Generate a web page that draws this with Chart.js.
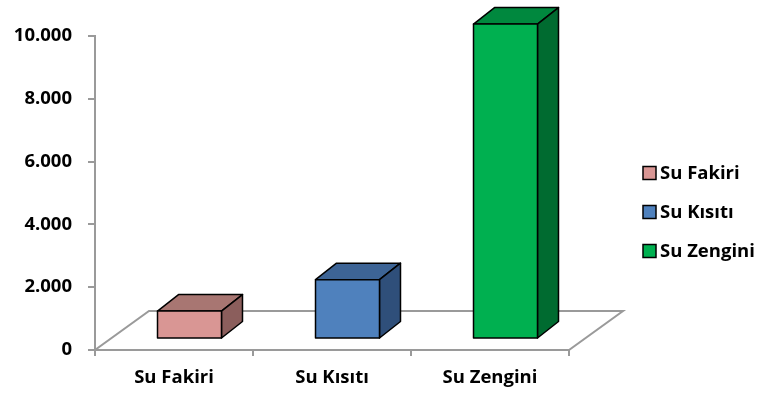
<!DOCTYPE html>
<html>
<head>
<meta charset="utf-8">
<script src="https://cdn.jsdelivr.net/npm/chart.js@4/dist/chart.umd.min.js"></script>
<style>
html,body{margin:0;padding:0;background:#fff;}
#wrap{width:761px;height:396px;position:relative;}
</style>
</head>
<body>
<div id="wrap"><canvas id="c" width="761" height="396"></canvas></div>
<script>
// ---- data ----
const categories = ["Su Fakiri", "Su Kısıtı", "Su Zengini"];
const values = [890, 1890, 10030];
const yTickValues = [0, 2000, 4000, 6000, 8000, 10000];
const yTickLabels = ["0", "2.000", "4.000", "6.000", "8.000", "10.000"];

// ---- styles ----
const frontColors = ["#D99694", "#4F81BD", "#00B050"];
const topColors = ["#A87672", "#3D6495", "#00883E"];
const sideColors = ["#8B5E5C", "#2F4F7A", "#006B30"];
const FONT = "'Open Sans', 'Liberation Sans', sans-serif";
const AXIS_GREY = "#9a9a9a";

const OFF_X = 15.5, OFF_Y = -11;      // bar placement depth
const DEP_X = 21, DEP_Y = -16.5;      // bar depth
const FLOOR_X = 54, FLOOR_Y = -39;    // floor depth

const bar3d = {
  id: 'bar3d',
  beforeDatasetsDraw(chart) {
    const ctx = chart.ctx, a = chart.chartArea;
    ctx.save();
    ctx.beginPath();
    ctx.moveTo(a.left, a.bottom);
    ctx.lineTo(a.right, a.bottom);
    ctx.lineTo(a.right + FLOOR_X, a.bottom + FLOOR_Y);
    ctx.lineTo(a.left + FLOOR_X, a.bottom + FLOOR_Y);
    ctx.closePath();
    ctx.fillStyle = '#ffffff';
    ctx.fill();
    ctx.strokeStyle = AXIS_GREY;
    ctx.lineWidth = 2;
    ctx.stroke();
    ctx.restore();
  },
  afterDatasetsDraw(chart) {
    const ctx = chart.ctx;
    const meta = chart.getDatasetMeta(0);
    ctx.save();
    ctx.lineWidth = 1.5;
    ctx.strokeStyle = '#000';
    ctx.lineJoin = 'round';
    meta.data.forEach((bar, i) => {
      const p = bar.getProps(['x', 'y', 'base', 'width'], true);
      const x0 = p.x - p.width / 2 + OFF_X, x1 = x0 + p.width;
      const yt = p.y + OFF_Y, yb = p.base + OFF_Y;
      // top face
      ctx.beginPath();
      ctx.moveTo(x0, yt); ctx.lineTo(x1, yt);
      ctx.lineTo(x1 + DEP_X, yt + DEP_Y); ctx.lineTo(x0 + DEP_X, yt + DEP_Y);
      ctx.closePath();
      ctx.fillStyle = topColors[i]; ctx.fill(); ctx.stroke();
      // side face
      ctx.beginPath();
      ctx.moveTo(x1, yt); ctx.lineTo(x1 + DEP_X, yt + DEP_Y);
      ctx.lineTo(x1 + DEP_X, yb + DEP_Y); ctx.lineTo(x1, yb);
      ctx.closePath();
      ctx.fillStyle = sideColors[i]; ctx.fill(); ctx.stroke();
      // front face
      ctx.beginPath();
      ctx.rect(x0, yt, p.width, yb - yt);
      ctx.fillStyle = frontColors[i]; ctx.fill(); ctx.stroke();
    });
    ctx.restore();
  },
  afterDraw(chart) {
    const ctx = chart.ctx;
    ctx.save();
    const lx = 643, ys = [173, 212, 251];
    ctx.font = "bold 18.5px " + FONT;
    ctx.textBaseline = 'middle';
    ctx.textAlign = 'left';
    categories.forEach((c, i) => {
      ctx.fillStyle = frontColors[i];
      ctx.fillRect(lx, ys[i] - 6.5, 13, 13);
      ctx.lineWidth = 1.5;
      ctx.strokeStyle = '#000';
      ctx.strokeRect(lx, ys[i] - 6.5, 13, 13);
      ctx.fillStyle = '#000';
      ctx.fillText(c, lx + 17, ys[i] + 1);
    });
    ctx.restore();
  }
};

new Chart(document.getElementById('c'), {
  type: 'bar',
  data: {
    labels: categories,
    datasets: [{
      data: values,
      backgroundColor: 'rgba(0,0,0,0)',
      borderWidth: 0,
      barPercentage: 0.405,
      categoryPercentage: 1
    }]
  },
  options: {
    responsive: false,
    animation: false,
    events: [],
    layout: { padding: { top: 36, right: 192, bottom: 0, left: 0 } },
    plugins: { legend: { display: false }, tooltip: { enabled: false } },
    scales: {
      x: {
        afterFit(s) { s.height = 46; },
        grid: { display: true, drawOnChartArea: false, offset: true, tickLength: 6, color: AXIS_GREY, lineWidth: 2 },
        border: { display: true, color: AXIS_GREY, width: 2 },
        ticks: { color: '#000', font: { family: FONT, size: 18.5, weight: 'bold' }, padding: 11 }
      },
      y: {
        min: 0, max: 10000,
        afterFit(s) { s.width = 95; },
        afterBuildTicks(s) { s.ticks = yTickValues.map(v => ({ value: v })); },
        grid: { display: true, drawOnChartArea: false, tickLength: 7, color: AXIS_GREY, lineWidth: 2 },
        border: { display: true, color: AXIS_GREY, width: 2 },
        ticks: {
          color: '#000',
          font: { family: FONT, size: 18.5, weight: 'bold' },
          padding: 16,
          callback: (v) => yTickLabels[yTickValues.indexOf(v)]
        }
      }
    }
  },
  plugins: [bar3d]
});
</script>
</body>
</html>
